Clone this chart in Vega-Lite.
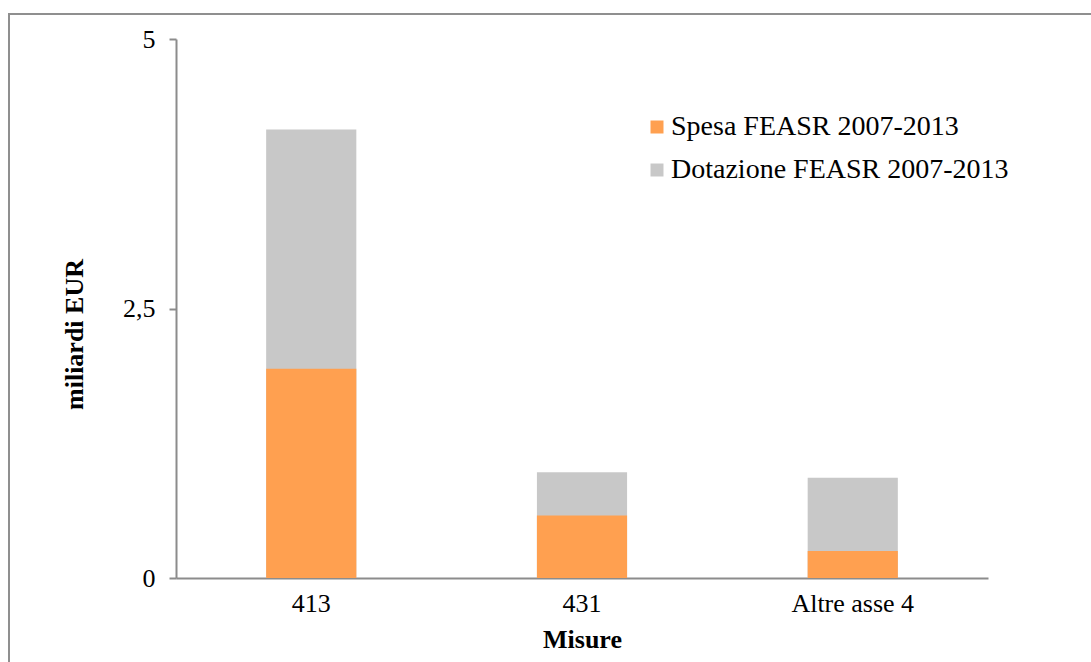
{
  "$schema": "https://vega.github.io/schema/vega-lite/v6.json",
  "width": 1085,
  "height": 651,
  "autosize": {"type": "none"},
  "padding": {"left": 9, "top": 14, "right": -3, "bottom": -3},
  "background": "white",
  "data": {
    "values": [
      {"misura": "413", "serie": "Dotazione FEASR 2007-2013", "valore": 4.16},
      {"misura": "431", "serie": "Dotazione FEASR 2007-2013", "valore": 0.98},
      {"misura": "Altre asse 4", "serie": "Dotazione FEASR 2007-2013", "valore": 0.93},
      {"misura": "413", "serie": "Spesa FEASR 2007-2013", "valore": 1.94},
      {"misura": "431", "serie": "Spesa FEASR 2007-2013", "valore": 0.58},
      {"misura": "Altre asse 4", "serie": "Spesa FEASR 2007-2013", "valore": 0.25}
    ]
  },
  "mark": {"type": "bar"},
  "encoding": {
    "x": {
      "field": "misura",
      "type": "nominal",
      "sort": ["413", "431", "Altre asse 4"],
      "scale": {"range": [167, 979], "paddingInner": 0.667, "paddingOuter": 0.333},
      "axis": {
        "title": "Misure",
        "offset": -87,
        "labelAngle": 0,
        "ticks": false,
        "labelPadding": 12,
        "titlePadding": 10,
        "domainColor": "#8c8c8c",
        "domainWidth": 2
      }
    },
    "y": {
      "field": "valore",
      "type": "quantitative",
      "stack": null,
      "scale": {"domain": [0, 5], "nice": false, "range": [564, 25]},
      "axis": {
        "title": "miliardi EUR",
        "offset": -167,
        "values": [0, 2.5, 5],
        "labelExpr": "replace(format(datum.value, ''), '.', ',')",
        "grid": false,
        "tickSize": 7,
        "tickColor": "#8c8c8c",
        "tickWidth": 2,
        "domainColor": "#8c8c8c",
        "domainWidth": 2,
        "labelPadding": 14,
        "titlePadding": 35,
        "titleY": 320
      }
    },
    "color": {
      "field": "serie",
      "type": "nominal",
      "scale": {
        "domain": ["Spesa FEASR 2007-2013", "Dotazione FEASR 2007-2013"],
        "range": ["#FFA050", "#C8C8C8"]
      },
      "legend": {
        "title": null,
        "orient": "none",
        "legendX": 634,
        "legendY": 99,
        "symbolType": "square",
        "symbolSize": 169,
        "symbolStrokeWidth": 0,
        "labelFontSize": 28,
        "labelFont": "Liberation Serif",
        "labelColor": "#000000",
        "labelOffset": 0,
        "labelLimit": 0,
        "rowPadding": 15
      }
    },
    "order": {"field": "serie", "sort": "ascending"}
  },
  "config": {
    "font": "Liberation Serif",
    "view": {"stroke": "#8f8f8f", "strokeWidth": 2},
    "axis": {
      "labelFont": "Liberation Serif",
      "labelFontSize": 26,
      "labelColor": "#000000",
      "titleFont": "Liberation Serif",
      "titleFontSize": 26,
      "titleFontWeight": "bold",
      "titleColor": "#000000"
    }
  }
}
